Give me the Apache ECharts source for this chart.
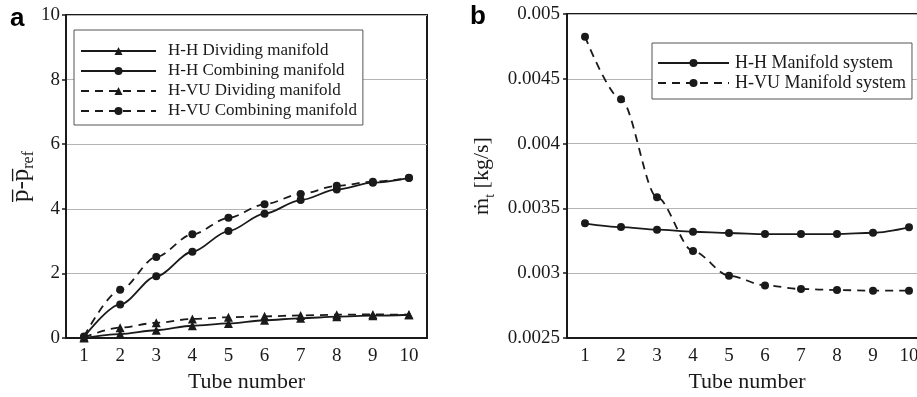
<!DOCTYPE html>
<html>
<head>
<meta charset="utf-8">
<script src="https://cdn.jsdelivr.net/npm/echarts@6/dist/echarts.min.js"></script>
<style>
  html, body { margin: 0; padding: 0; background: #fff; }
  #chart { width: 917px; height: 397px; }
</style>
</head>
<body>
<div id="chart"></div>
<script>
// Tube numbers along the manifold
const tubes = ['1', '2', '3', '4', '5', '6', '7', '8', '9', '10'];

// (a) pressure difference relative to the reference tube
const hhDividing   = [0.00, 0.12, 0.24, 0.38, 0.45, 0.55, 0.61, 0.66, 0.69, 0.72];
const hhCombining  = [0.03, 1.04, 1.91, 2.67, 3.31, 3.85, 4.27, 4.60, 4.81, 4.96];
const hvuDividing  = [0.02, 0.32, 0.47, 0.59, 0.64, 0.67, 0.70, 0.72, 0.73, 0.72];
const hvuCombining = [0.05, 1.49, 2.51, 3.21, 3.72, 4.14, 4.46, 4.71, 4.84, 4.95];

// (b) mass flow rate through each tube [kg/s]
const hhSystem  = [0.003385, 0.003356, 0.003336, 0.003320, 0.003310, 0.003302, 0.003302, 0.003302, 0.003312, 0.003354];
const hvuSystem = [0.004825, 0.004342, 0.003586, 0.003171, 0.002981, 0.002906, 0.002878, 0.002870, 0.002865, 0.002865];

const SERIF = '"Liberation Serif", "Times New Roman", serif';
const INK = '#1a1a1a';

const chart = echarts.init(document.getElementById('chart'), null, { renderer: 'canvas' });

function xAxisFor(gridIndex) {
  return {
    type: 'category',
    gridIndex,
    data: tubes,
    boundaryGap: true,
    name: 'Tube number',
    nameLocation: 'middle',
    nameGap: 31,
    nameTextStyle: { fontFamily: SERIF, fontSize: 22, color: INK },
    axisLine: { lineStyle: { color: INK, width: 2 } },
    axisTick: { inside: true, alignWithLabel: true, length: 6, lineStyle: { color: INK, width: 1.5 } },
    axisLabel: { fontFamily: SERIF, fontSize: 19, color: INK, margin: 9 },
    splitLine: { show: false }
  };
}

function lineSeries(name, data, xi, yi, symbol, dashed) {
  return {
    name,
    type: 'line',
    xAxisIndex: xi,
    yAxisIndex: yi,
    data,
    smooth: 0.3,
    smoothMonotone: 'x',
    symbol,
    symbolSize: symbol === 'triangle' ? 9 : 8,
    showSymbol: true,
    clip: false,
    lineStyle: { color: INK, width: 1.8, type: dashed ? [8, 6] : 'solid' },
    itemStyle: { color: INK },
    emphasis: { disabled: true },
    animation: false
  };
}

function legendText(size, gap) {
  return { fontFamily: SERIF, fontSize: size, color: INK, lineHeight: 20, padding: [0, 0, 0, gap] };
}

const option = {
  animation: false,
  backgroundColor: '#fff',
  grid: [
    { left: 66, top: 15, width: 361, height: 323, outerBoundsMode: 'none', show: true, borderColor: INK, borderWidth: 2, backgroundColor: 'transparent' },
    { left: 567, top: 14, width: 360, height: 324, outerBoundsMode: 'none', show: true, borderColor: INK, borderWidth: 2, backgroundColor: 'transparent' }
  ],
  xAxis: [xAxisFor(0), xAxisFor(1)],
  yAxis: [
    {
      type: 'value', gridIndex: 0, min: 0, max: 10, interval: 2,
      name: '{p|p\u0305-p\u0305}{s|ref}',
      nameLocation: 'middle', nameRotate: 90, nameGap: 29,
      nameTextStyle: {
        rich: {
          p: { fontFamily: SERIF, fontSize: 25, color: INK, lineHeight: 32 },
          s: { fontFamily: SERIF, fontSize: 16, color: INK, lineHeight: 17, verticalAlign: 'bottom' }
        }
      },
      axisLine: { show: true, lineStyle: { color: INK, width: 2 } },
      axisTick: { show: true, length: 4, lineStyle: { color: INK, width: 1.5 } },
      axisLabel: { fontFamily: SERIF, fontSize: 19, color: INK, margin: 6 },
      splitLine: { show: true, lineStyle: { color: '#b4b4b4', width: 1 } }
    },
    {
      type: 'value', gridIndex: 1, min: 0.0025, max: 0.005, interval: 0.0005,
      name: '{m|\u1E41}{s|t}{m| [kg/s]}',
      nameLocation: 'middle', nameRotate: 90, nameGap: 70,
      nameTextStyle: {
        rich: {
          m: { fontFamily: SERIF, fontSize: 22, color: INK, lineHeight: 30 },
          s: { fontFamily: SERIF, fontSize: 14, color: INK, lineHeight: 16, verticalAlign: 'bottom' }
        }
      },
      axisLine: { show: true, lineStyle: { color: INK, width: 2 } },
      axisTick: { show: true, length: 4, lineStyle: { color: INK, width: 1.5 } },
      axisLabel: {
        fontFamily: SERIF, fontSize: 19, color: INK, margin: 7,
        formatter: v => String(parseFloat(v.toFixed(5)))
      },
      splitLine: { show: true, lineStyle: { color: '#b4b4b4', width: 1 } }
    }
  ],
  legend: [
    {
      left: 74, top: 30, orient: 'vertical',
      data: ['H-H Dividing manifold', 'H-H Combining manifold', 'H-VU Dividing manifold', 'H-VU Combining manifold'],
      itemWidth: 75, itemHeight: 10, itemGap: 0,
      padding: [11, 6, 4, 6],
      backgroundColor: '#fff', borderColor: '#555', borderWidth: 1, borderRadius: 0,
      textStyle: legendText(17, 7),
      selectedMode: false
    },
    {
      left: 652, top: 43, orient: 'vertical',
      data: ['H-H Manifold system', 'H-VU Manifold system'],
      itemWidth: 71, itemHeight: 10, itemGap: 0,
      padding: [10, 6, 6, 5],
      backgroundColor: '#fff', borderColor: '#555', borderWidth: 1, borderRadius: 0,
      textStyle: legendText(18, 1),
      selectedMode: false
    }
  ],
  graphic: [
    { type: 'text', left: 10, top: 6, style: { text: 'a', font: 'bold 26px "Liberation Sans", Arial, sans-serif', fill: '#000' } },
    { type: 'text', left: 470, top: 4, style: { text: 'b', font: 'bold 26px "Liberation Sans", Arial, sans-serif', fill: '#000' } }
  ],
  series: [
    lineSeries('H-H Dividing manifold', hhDividing, 0, 0, 'triangle', false),
    lineSeries('H-H Combining manifold', hhCombining, 0, 0, 'circle', false),
    lineSeries('H-VU Dividing manifold', hvuDividing, 0, 0, 'triangle', true),
    lineSeries('H-VU Combining manifold', hvuCombining, 0, 0, 'circle', true),
    lineSeries('H-H Manifold system', hhSystem, 1, 1, 'circle', false),
    lineSeries('H-VU Manifold system', hvuSystem, 1, 1, 'circle', true)
  ]
};

chart.setOption(option);
</script>
</body>
</html>
